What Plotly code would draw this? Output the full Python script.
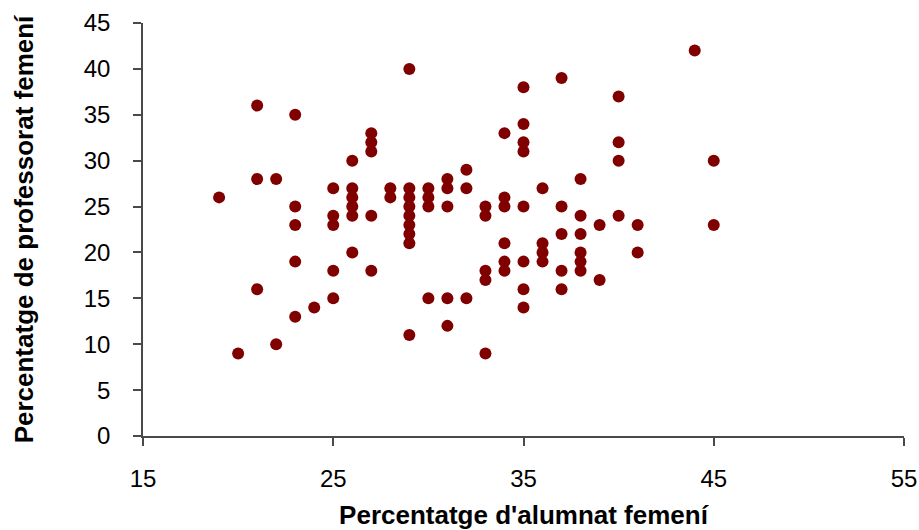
import plotly.graph_objects as go

# Percentatge d'alumnat femení (x) vs percentatge de professorat femení (y)
alumnat = [19, 20, 21, 21, 21, 22, 22, 23, 23, 23, 23, 23, 24,
           25, 25, 25, 25, 25, 26, 26, 26, 26, 26, 26, 27, 27, 27, 27, 27,
           28, 28, 29, 29, 29, 29, 29, 29, 29, 29, 29, 30, 30, 30, 30,
           31, 31, 31, 31, 31, 32, 32, 32, 33, 33, 33, 33, 33,
           34, 34, 34, 34, 34, 34, 35, 35, 35, 35, 35, 35, 35, 35,
           36, 36, 36, 36, 37, 37, 37, 37, 37, 38, 38, 38, 38, 38, 38,
           39, 39, 40, 40, 40, 40, 41, 41, 44, 45, 45]
professorat = [26, 9, 36, 28, 16, 28, 10, 35, 25, 23, 19, 13, 14,
               27, 24, 23, 18, 15, 30, 27, 26, 25, 24, 20, 33, 32, 31, 24, 18,
               27, 26, 40, 27, 26, 25, 24, 23, 22, 21, 11, 27, 26, 25, 15,
               28, 27, 25, 15, 12, 29, 27, 15, 25, 24, 18, 17, 9,
               33, 26, 25, 21, 19, 18, 38, 34, 32, 31, 25, 19, 16, 14,
               27, 21, 20, 19, 39, 25, 22, 18, 16, 28, 24, 22, 20, 19, 18,
               23, 17, 37, 32, 30, 24, 23, 20, 42, 30, 23]

x_ticks = [15, 25, 35, 45, 55]
y_ticks = [0, 5, 10, 15, 20, 25, 30, 35, 40, 45]

axis_color = "#4a4a4a"
font_family = "Liberation Sans, Arial, sans-serif"

fig = go.Figure(
    go.Scatter(
        x=alumnat,
        y=professorat,
        mode="markers",
        marker=dict(color="#800000", size=12, line=dict(width=0)),
        showlegend=False,
    )
)

fig.update_layout(
    width=919,
    height=530,
    margin=dict(l=143, r=15, t=23, b=94),
    paper_bgcolor="white",
    plot_bgcolor="white",
    font=dict(family=font_family, color="black"),
)

fig.update_xaxes(
    range=[15, 55],
    tickvals=x_ticks,
    ticktext=[str(v) for v in x_ticks],
    showgrid=False,
    zeroline=False,
    showline=True,
    linecolor=axis_color,
    linewidth=1.5,
    ticks="outside",
    ticklen=8,
    tickwidth=1.5,
    tickcolor=axis_color,
    tickfont=dict(size=24, family=font_family),
    ticklabelstandoff=12,
    automargin=False,
    title=dict(text="<b>Percentatge d'alumnat femení</b>",
               font=dict(size=26, family=font_family), standoff=21),
)

fig.update_yaxes(
    range=[0, 45],
    tickvals=y_ticks,
    ticktext=[str(v) for v in y_ticks],
    showgrid=False,
    zeroline=False,
    showline=True,
    linecolor=axis_color,
    linewidth=1.5,
    ticks="outside",
    ticklen=8,
    tickwidth=1.5,
    tickcolor=axis_color,
    tickfont=dict(size=24, family=font_family),
    ticklabelstandoff=18,
    automargin=False,
    title=dict(text="<b>Percentatge de professorat femení</b>",
               font=dict(size=26, family=font_family), standoff=43),
)

# remove the browser's default body margin so the 919x530 figure fills the window exactly
fig.write_html(
    "out.html",
    config={"displayModeBar": False},
    post_script="document.body.style.margin='0';document.body.style.overflow='hidden';",
)
